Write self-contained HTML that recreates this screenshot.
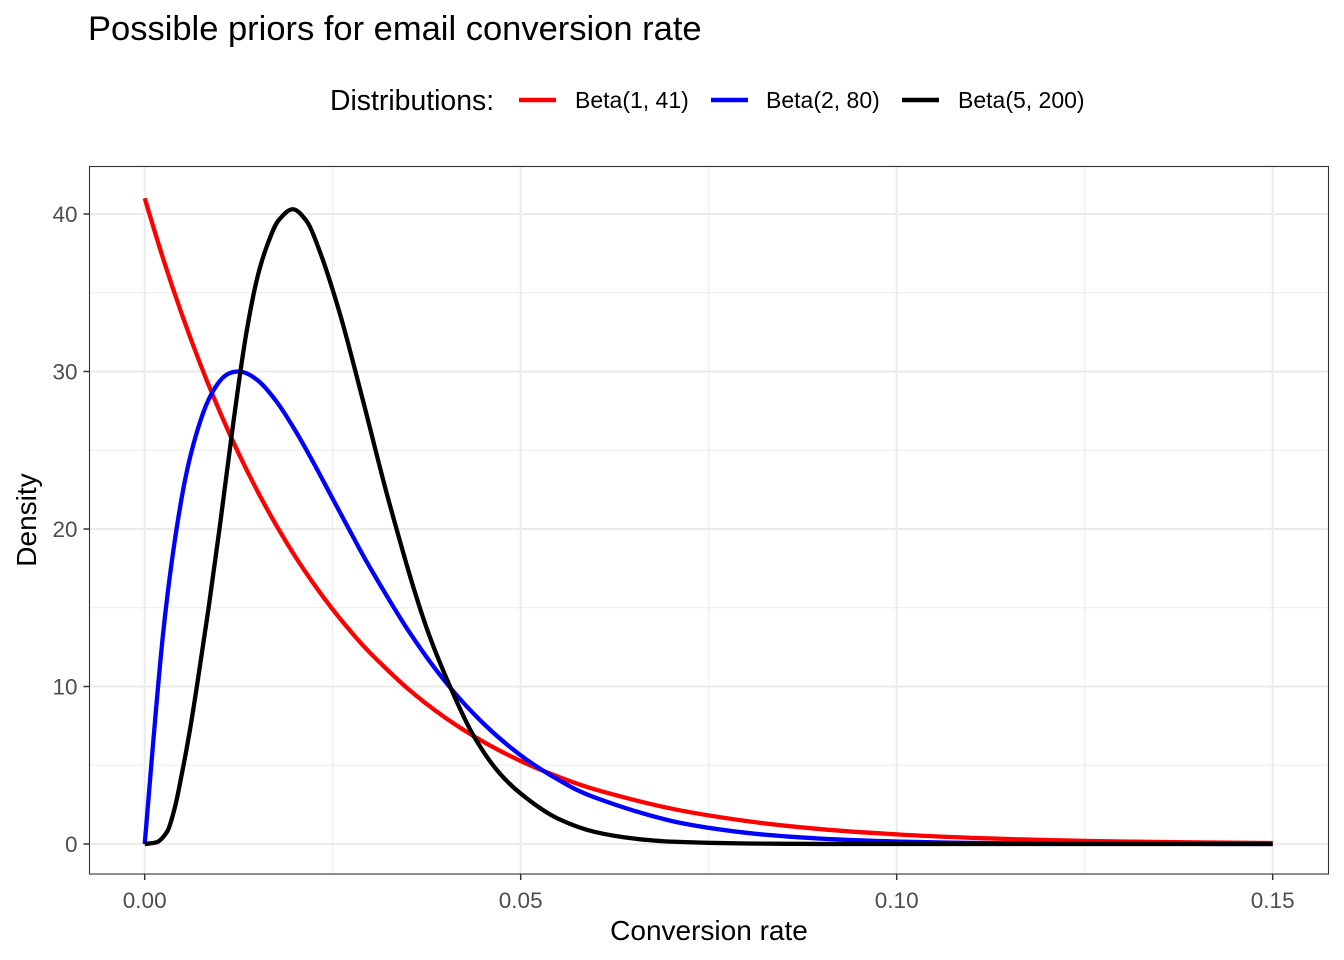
<!DOCTYPE html>
<html><head><meta charset="utf-8"><style>
body{margin:0;background:#fff;}
svg{display:block;font-family:"Liberation Sans",Arial,sans-serif;}
</style></head><body>
<svg id="chart" width="1344" height="960" viewBox="0 0 1344 960" xmlns="http://www.w3.org/2000/svg">
<rect x="0" y="0" width="1344" height="960" fill="#fff"/>
<text x="88" y="40" font-size="34.5" fill="#000">Possible priors for email conversion rate</text>
<g>
<text x="330" y="110" font-size="28.4" fill="#000">Distributions:</text>
<g><line x1="519" y1="100" x2="556" y2="100" stroke="#ff0000" stroke-width="4.5"/><text x="575" y="108" font-size="23">Beta(1, 41)</text></g>
<g><line x1="711" y1="100" x2="748" y2="100" stroke="#0000ff" stroke-width="4.5"/><text x="766" y="108" font-size="23">Beta(2, 80)</text></g>
<g><line x1="902" y1="100" x2="939" y2="100" stroke="#000" stroke-width="4.5"/><text x="958" y="108" font-size="23">Beta(5, 200)</text></g>
</g>
<g id="grid"></g>
<g id="series"></g>
<rect x="89.5" y="166.5" width="1239" height="707.5" fill="none" stroke="#333" stroke-width="1.1"/>
<g id="axes"></g>
<text x="709" y="940" font-size="28" text-anchor="middle" fill="#000">Conversion rate</text>
<text transform="translate(36,520) rotate(-90)" font-size="28" text-anchor="middle" fill="#000">Density</text>
</svg>
<script>
const xTicks=[0,0.05,0.10,0.15];
const xTickLabels=["0.00","0.05","0.10","0.15"];
const xMinor=[0.025,0.075,0.125];
const yTicks=[0,10,20,30,40];
const yTickLabels=["0","10","20","30","40"];
const yMinor=[5,15,25,35];

const redX=[0,0.0025,0.005,0.0075,0.01,0.0125,0.015,0.0175,0.02,0.0225,0.025,0.0275,0.03,0.035,0.04,0.045,0.05,0.055,0.06,0.07,0.08,0.09,0.1,0.11,0.12,0.13,0.14,0.15];
const redY=[41,37.09,33.55,30.34,27.43,24.79,22.40,20.23,18.27,16.50,14.89,13.44,12.12,9.86,8.01,6.50,5.27,4.27,3.45,2.25,1.46,0.94,0.61,0.39,0.25,0.16,0.10,0.06];
const blueX=[0,0.0025,0.005,0.0075,0.01,0.0125,0.015,0.0175,0.02,0.0225,0.025,0.0275,0.03,0.035,0.04,0.045,0.05,0.055,0.06,0.07,0.08,0.09,0.1,0.11,0.12,0.13,0.14,0.15];
const blueY=[0,13.6,22.2,27.0,29.4,30.0,29.45,28.11,26.27,24.16,21.92,19.69,17.52,13.59,10.29,7.67,5.63,4.08,2.93,1.47,0.71,0.34,0.16,0.07,0.03,0.01,0.006,0.002];
const blackX=[0,0.0015,0.003,0.004,0.005,0.006,0.007,0.0085,0.01,0.0118,0.0135,0.015,0.0162,0.0178,0.0197,0.0216,0.0233,0.026,0.029,0.0325,0.0375,0.0406,0.0437,0.047,0.05,0.055,0.06,0.065,0.07,0.08,0.09,0.15];
const blackY=[0,0.1,0.8,2.3,4.6,7.2,10.2,15.0,20.2,26.8,32.4,36.0,37.9,39.6,40.3,39.5,37.6,33.6,28.2,21.7,13.7,10.0,6.9,4.6,3.2,1.6,0.75,0.35,0.15,0.03,0.004,0];

const NS="http://www.w3.org/2000/svg";
const X0=89.5,X1=1328.5,Y0=166.5,Y1=874;
function sx(v){return 144.7+v*(520.7-144.7)/0.05;}
function sy(v){return 844-v*15.75;}
function mk(tag,attrs,parent){const e=document.createElementNS(NS,tag);for(const k in attrs)e.setAttribute(k,attrs[k]);parent.appendChild(e);return e;}
const grid=document.getElementById('grid'),axes=document.getElementById('axes'),series=document.getElementById('series');
xMinor.forEach(v=>{const l=mk('line',{x1:sx(v),x2:sx(v),y1:Y0,y2:Y1,stroke:'#ebebeb','stroke-width':1},grid);

});
yMinor.forEach(v=>{const l=mk('line',{x1:X0,x2:X1,y1:sy(v),y2:sy(v),stroke:'#ebebeb','stroke-width':1},grid);

});
xTicks.forEach((v,i)=>{const l=mk('line',{x1:sx(v),x2:sx(v),y1:Y0,y2:Y1,stroke:'#ebebeb','stroke-width':2},grid);


const t=mk('line',{x1:sx(v),x2:sx(v),y1:Y1,y2:Y1+6,stroke:'#333','stroke-width':1.5},axes);


const tx=mk('text',{x:sx(v),y:908,'font-size':22.5,'text-anchor':'middle',fill:'#4d4d4d'},axes);tx.textContent=xTickLabels[i];

});
yTicks.forEach((v,i)=>{const l=mk('line',{x1:X0,x2:X1,y1:sy(v),y2:sy(v),stroke:'#ebebeb','stroke-width':2},grid);


const t=mk('line',{x1:X0-6,x2:X0,y1:sy(v),y2:sy(v),stroke:'#333','stroke-width':1.5},axes);


const tx=mk('text',{x:X0-12,y:sy(v)+8,'font-size':22.5,'text-anchor':'end',fill:'#4d4d4d'},axes);tx.textContent=yTickLabels[i];

});
function catmull(xs,ys){const p=xs.map((x,i)=>[sx(x),sy(ys[i])]);let d='M'+p[0][0].toFixed(2)+','+p[0][1].toFixed(2);
for(let i=0;i<p.length-1;i++){const p0=p[Math.max(0,i-1)],p1=p[i],p2=p[i+1],p3=p[Math.min(p.length-1,i+2)];
const c1=[p1[0]+(p2[0]-p0[0])/6,p1[1]+(p2[1]-p0[1])/6],c2=[p2[0]-(p3[0]-p1[0])/6,p2[1]-(p3[1]-p1[1])/6];
d+='C'+c1[0].toFixed(2)+','+c1[1].toFixed(2)+' '+c2[0].toFixed(2)+','+c2[1].toFixed(2)+' '+p2[0].toFixed(2)+','+p2[1].toFixed(2);}
return d;}
function monotone(xs,ys){
const px=xs.map(sx),py=ys.map(sy),n=px.length;
const d=[],m=new Array(n);
for(let i=0;i<n-1;i++)d.push((py[i+1]-py[i])/(px[i+1]-px[i]));
m[0]=d[0];m[n-1]=d[n-2];
for(let i=1;i<n-1;i++){if(d[i-1]*d[i]<=0)m[i]=0;else{const w1=2*(px[i+1]-px[i])+(px[i]-px[i-1]),w2=(px[i+1]-px[i])+2*(px[i]-px[i-1]);m[i]=(w1+w2)/(w1/d[i-1]+w2/d[i]);}}
let s='M'+px[0].toFixed(2)+','+py[0].toFixed(2);
for(let i=0;i<n-1;i++){const h=(px[i+1]-px[i])/3;
s+='C'+(px[i]+h).toFixed(2)+','+(py[i]+m[i]*h).toFixed(2)+' '+(px[i+1]-h).toFixed(2)+','+(py[i+1]-m[i+1]*h).toFixed(2)+' '+px[i+1].toFixed(2)+','+py[i+1].toFixed(2);}
return s;}
const r=mk('path',{d:catmull(redX,redY),fill:'none',stroke:'#ff0000','stroke-width':4.3,'stroke-linejoin':'round'},series);


const b=mk('path',{d:catmull(blueX,blueY),fill:'none',stroke:'#0000ff','stroke-width':4.3,'stroke-linejoin':'round'},series);


const k=mk('path',{d:monotone(blackX,blackY),fill:'none',stroke:'#000','stroke-width':4.3,'stroke-linejoin':'round'},series);


</script>
</body></html>
